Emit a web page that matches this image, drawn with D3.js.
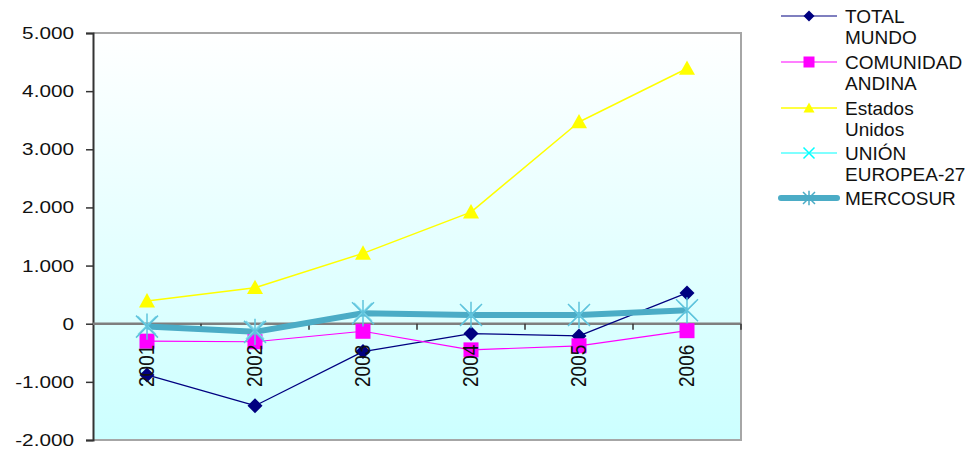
<!DOCTYPE html>
<html>
<head>
<meta charset="utf-8">
<script src="https://cdn.jsdelivr.net/npm/d3@7"></script>
<style>
  body { margin: 0; background: #fff; }
  text { font-family: "Liberation Sans", Arial, sans-serif; }
</style>
</head>
<body>
<svg id="chart" width="979" height="451"></svg>
<script>
// years on the x axis
var years = ["2001", "2002", "2003", "2004", "2005", "2006"];
// y tick values
var yTicks = [-2000, -1000, 0, 1000, 2000, 3000, 4000, 5000];

// series values
var totalMundo = [-880, -1410, -480, -170, -210, 530];
var comunidadAndina = [-300, -310, -130, -450, -380, -120];
var estadosUnidos = [390, 620, 1210, 1920, 3470, 4390];
var unionEuropea = [-30, -110, 200, 150, 150, 230];
var mercosur = [-50, -140, 180, 150, 150, 230];

var series = [
  {name: ["TOTAL", "MUNDO"], values: totalMundo, color: "#000080", width: 1.2, marker: "diamond"},
  {name: ["COMUNIDAD", "ANDINA"], values: comunidadAndina, color: "#ff00ff", width: 1.2, marker: "square"},
  {name: ["Estados", "Unidos"], values: estadosUnidos, color: "#ffff00", width: 1.5, marker: "triangle"},
  {name: ["UNIÓN", "EUROPEA-27"], values: unionEuropea, color: "#00ffff", width: 1.2, marker: "cross"},
  {name: ["MERCOSUR"], values: mercosur, color: "#4bacc6", width: 6, marker: "star"}
];

var svg = d3.select("#chart");
var plot = {left: 93, right: 741, top: 33, bottom: 440};

var x = d3.scaleBand().domain(years).range([plot.left, plot.right]);
var y = d3.scaleLinear().domain([-2000, 5000]).range([plot.bottom, plot.top]);

// background gradient
var grad = svg.append("defs").append("linearGradient")
  .attr("id", "bg").attr("x1", 0).attr("y1", 0).attr("x2", 0).attr("y2", 1);
grad.append("stop").attr("offset", "0%").attr("stop-color", "#ffffff");
grad.append("stop").attr("offset", "100%").attr("stop-color", "#ccffff");

svg.append("rect")
  .attr("x", plot.left).attr("y", plot.top)
  .attr("width", plot.right - plot.left).attr("height", plot.bottom - plot.top)
  .attr("fill", "url(#bg)");

// top and right border
svg.append("path")
  .attr("d", "M" + plot.left + "," + plot.top + "H" + plot.right + "V" + plot.bottom + "H" + plot.left)
  .attr("fill", "none").attr("stroke", "#a6a6a6").attr("stroke-width", 2);

// y axis
var yAxis = svg.append("g")
  .attr("transform", "translate(" + plot.left + ",0)")
  .call(d3.axisLeft(y).tickValues(yTicks).tickSize(7).tickPadding(12)
    .tickFormat(function(d) { return d3.format(",")(d).replace(/,/g, ".").replace("\u2212", "-"); }));
yAxis.select(".domain").attr("stroke", "#333").attr("stroke-width", 2);
yAxis.selectAll(".tick line").attr("stroke", "#333").attr("stroke-width", 1.5);
yAxis.selectAll(".tick text")
  .attr("font-size", 17).attr("fill", "#111").style("font-family", "Liberation Sans, Arial, sans-serif")
  .each(function() {
    var t = d3.select(this);
    t.attr("textLength", this.getComputedTextLength() * 1.22).attr("lengthAdjust", "spacingAndGlyphs");
  });

// category axis on the zero line
var xAxis = svg.append("g")
  .attr("transform", "translate(0," + y(0) + ")");
xAxis.append("line")
  .attr("x1", plot.left).attr("x2", plot.right)
  .attr("stroke", "#7f7f7f").attr("stroke-width", 2.5);
xAxis.selectAll(".tk")
  .data(years.slice(1).concat(["end"]))
  .enter().append("line")
  .attr("x1", function(d, i) { return plot.left + (i + 1) * x.bandwidth(); })
  .attr("x2", function(d, i) { return plot.left + (i + 1) * x.bandwidth(); })
  .attr("y1", 0).attr("y2", 6)
  .attr("stroke", "#333").attr("stroke-width", 1.5);

var line = d3.line()
  .x(function(d, i) { return x(years[i]) + x.bandwidth() / 2; })
  .y(function(d) { return y(d); });

// lines
series.forEach(function(s) {
  svg.append("path")
    .datum(s.values)
    .attr("d", line)
    .attr("fill", "none")
    .attr("stroke", s.color)
    .attr("stroke-width", s.width)
    .attr("stroke-linejoin", "round");
});

function drawMarker(g, type, color, size) {
  var h = size / 2;
  if (type === "diamond") {
    g.append("path").attr("d", "M0," + (-h) + "L" + h + ",0L0," + h + "L" + (-h) + ",0Z").attr("fill", color);
  } else if (type === "square") {
    g.append("rect").attr("x", -h).attr("y", -h).attr("width", size).attr("height", size).attr("fill", color);
  } else if (type === "triangle") {
    g.append("path").attr("d", "M0," + (-h) + "L" + h + "," + (h * 0.8) + "L" + (-h) + "," + (h * 0.8) + "Z").attr("fill", color);
  } else if (type === "cross") {
    g.append("path").attr("d", "M" + (-h) + "," + (-h) + "L" + h + "," + h + "M" + h + "," + (-h) + "L" + (-h) + "," + h)
      .attr("stroke", color).attr("stroke-width", 1.5);
  } else if (type === "star") {
    g.append("path").attr("d", "M" + (-h) + "," + (-h) + "L" + h + "," + h + "M" + h + "," + (-h) + "L" + (-h) + "," + h + "M0," + (-h * 1.2) + "V" + (h * 1.2))
      .attr("stroke", color).attr("stroke-width", 1.5);
  }
}

// markers
var markerSize = {diamond: 15, square: 15, triangle: 16, cross: 18, star: 22};
var markerColor = {diamond: "#000080", square: "#ff00ff", triangle: "#ffff00", cross: "#7fd8ea", star: "#5fc3dc"};
series.forEach(function(s) {
  s.values.forEach(function(v, i) {
    var g = svg.append("g")
      .attr("transform", "translate(" + (x(years[i]) + x.bandwidth() / 2) + "," + y(v) + ")");
    drawMarker(g, s.marker, markerColor[s.marker], markerSize[s.marker]);
  });
});

// rotated year labels
svg.append("g").selectAll("text")
  .data(years)
  .enter().append("text")
  .attr("transform", function(d) {
    return "translate(" + (x(d) + x.bandwidth() / 2 + 7) + "," + (y(0) + 21) + ") scale(1.12,1) rotate(-90)";
  })
  .attr("text-anchor", "end")
  .attr("font-size", 19)
  .attr("fill", "#111")
  .text(function(d) { return d; });

// legend
var legend = svg.append("g");
var rowY = [16, 62, 108, 153, 198];
series.forEach(function(s, i) {
  var g = legend.append("g").attr("transform", "translate(0," + rowY[i] + ")");
  g.append("line")
    .attr("x1", 781).attr("x2", 837)
    .attr("stroke", s.color)
    .attr("stroke-width", s.marker === "star" ? 6 : s.width)
    .attr("stroke-linecap", s.marker === "star" ? "round" : "butt");
  var m = g.append("g").attr("transform", "translate(809,0)");
  var legendColor = {diamond: "#000080", square: "#ff00ff", triangle: "#ffff00", cross: "#00ffff", star: "#4bacc6"};
  drawMarker(m, s.marker, legendColor[s.marker], s.marker === "star" ? 12 : 11);
  s.name.forEach(function(n, j) {
    g.append("text")
      .attr("x", 845).attr("y", 7 + j * 21)
      .attr("font-size", 19)
      .attr("fill", "#111")
      .text(n);
  });
});
</script>
</body>
</html>
